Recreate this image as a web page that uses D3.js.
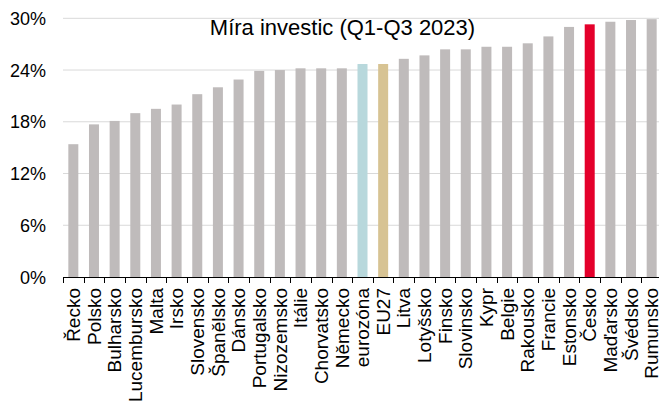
<!DOCTYPE html>
<html>
<head>
<meta charset="utf-8">
<script src="https://cdn.jsdelivr.net/npm/d3@7"></script>
<style>
  html, body { margin: 0; padding: 0; background: #fff; }
  svg { display: block; }
  text { font-family: "Liberation Sans", Arial, sans-serif; fill: #000; }
</style>
</head>
<body>
<svg id="chart" width="659" height="401"></svg>
<script>
const categories = ["Řecko","Polsko","Bulharsko","Lucembursko","Malta","Irsko","Slovensko","Španělsko","Dánsko","Portugalsko","Nizozemsko","Itálie","Chorvatsko","Německo","eurozóna","EU27","Litva","Lotyšsko","Finsko","Slovinsko","Kypr","Belgie","Rakousko","Francie","Estonsko","Česko","Maďarsko","Švédsko","Rumunsko"];
const values = [15.4,17.7,18.1,19.0,19.5,20.0,21.2,22.0,22.9,23.9,24.0,24.2,24.2,24.2,24.7,24.7,25.3,25.7,26.4,26.4,26.7,26.7,27.1,27.9,29.0,29.3,29.6,29.8,29.9];
const yTicks = [0, 6, 12, 18, 24, 30];
const title = "Míra investic (Q1-Q3 2023)";
const highlight = { "eurozóna": "#b8d8dc", "EU27": "#d7c393", "Česko": "#e4002b" };
const baseColor = "#bfbbbb";

const svg = d3.select("#chart");
const x = d3.scaleBand().domain(categories).range([63, 662]).paddingInner(0.516).paddingOuter(0.258);
const y = d3.scaleLinear().domain([0, 30]).range([277, 18.3]);

// gridlines
svg.append("g").selectAll("line").data(yTicks.filter(d => d > 0)).join("line")
  .attr("x1", 63).attr("x2", 659)
  .attr("y1", d => y(d)).attr("y2", d => y(d))
  .attr("stroke", "#d9d9d9").attr("stroke-width", 1);

// bars
svg.append("g").selectAll("rect").data(categories).join("rect")
  .attr("x", d => x(d))
  .attr("width", x.bandwidth())
  .attr("y", (d, i) => y(values[i]))
  .attr("height", (d, i) => y(0) - y(values[i]))
  .attr("fill", d => highlight[d] || baseColor);

// x axis line
svg.append("line").attr("x1", 63).attr("x2", 659)
  .attr("y1", y(0) + 0.5).attr("y2", y(0) + 0.5)
  .attr("stroke", "#000").attr("stroke-width", 1);

// boundary ticks
const step = x.step();
const offset = (step - x.bandwidth()) / 2;
svg.append("g").selectAll("line").data(categories).join("line")
  .attr("x1", d => Math.round(x(d) - offset) + 0.5)
  .attr("x2", d => Math.round(x(d) - offset) + 0.5)
  .attr("y1", y(0)).attr("y2", y(0) + 6)
  .attr("stroke", "#000").attr("stroke-width", 1);

// y tick labels
svg.append("g").selectAll("text").data(yTicks).join("text")
  .attr("x", 46).attr("y", d => y(d) + 6.5)
  .attr("text-anchor", "end")
  .attr("font-size", 18)
  .text(d => d + "%");

// category labels
svg.append("g").selectAll("text").data(categories).join("text")
  .attr("transform", d => `translate(${x(d) + x.bandwidth() / 2},288) rotate(-90)`)
  .attr("text-anchor", "end")
  .attr("dy", "0.35em")
  .attr("font-size", 19)
  .text(d => d);

// title
svg.append("text").attr("x", 342.5).attr("y", 35)
  .attr("text-anchor", "middle").attr("font-size", 22)
  .text(title);
</script>
</body>
</html>
